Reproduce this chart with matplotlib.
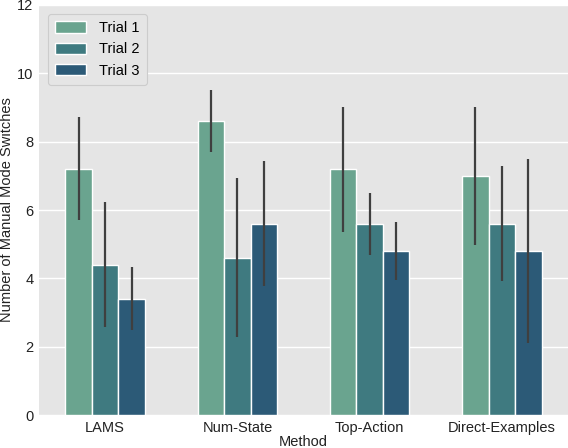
import numpy as np
import matplotlib.pyplot as plt

plt.rcParams['font.family'] = ['Liberation Sans', 'DejaVu Sans']

methods = ["LAMS", "Num-State", "Top-Action", "Direct-Examples"]
trials = ["Trial 1", "Trial 2", "Trial 3"]

# mean values per trial, one entry per method
trial1 = [7.2, 8.6, 7.2, 7.0]
trial2 = [4.4, 4.6, 5.6, 5.6]
trial3 = [3.4, 5.6, 4.8, 4.8]

# error bar lower/upper ends
trial1_lo = [5.7, 7.7, 5.37, 4.97]
trial1_hi = [8.71, 9.5, 9.0, 9.0]
trial2_lo = [2.57, 2.28, 4.67, 3.92]
trial2_hi = [6.22, 6.93, 6.51, 7.29]
trial3_lo = [2.49, 3.77, 3.94, 2.11]
trial3_hi = [4.32, 7.42, 5.65, 7.5]

colors = ["#6aa48f", "#3f7a80", "#2c5a77"]

means = [trial1, trial2, trial3]
lows = [trial1_lo, trial2_lo, trial3_lo]
highs = [trial1_hi, trial2_hi, trial3_hi]

fig = plt.figure(figsize=(5.68, 4.48), dpi=100)
ax = fig.add_axes([39/568, 33/448, 529/568, 410/448])
ax.set_facecolor("#e5e5e5")
ax.set_axisbelow(True)
ax.yaxis.grid(True, color="white", linewidth=1.0)
for s in ax.spines.values():
    s.set_visible(False)

x = np.arange(len(methods))
w = 0.6 / 3
for i in range(3):
    pos = x + (i - 1) * w
    ax.bar(pos, means[i], width=w, color=colors[i], edgecolor="white",
           linewidth=1.0, label=trials[i])
    for p, lo, hi in zip(pos, lows[i], highs[i]):
        ax.plot([p, p], [lo, hi], color="#3f3f3f", linewidth=1.6,
                solid_capstyle="butt")

ax.set_xlim(-0.5, len(methods) - 0.5)
ax.set_ylim(0, 12)
ax.set_yticks([0, 2, 4, 6, 8, 10, 12])
ax.set_xticks(x)
ax.set_xticklabels(methods)
ax.tick_params(axis="both", length=0, labelsize=10.5, colors="#222222", pad=4)
ax.set_xlabel("Method", fontsize=10.5, color="#222222", labelpad=0)
ax.set_ylabel("Number of Manual Mode Switches", fontsize=10.5,
              color="#222222", labelpad=2)

leg = ax.legend(loc="upper left", fontsize=10.5, facecolor="#e5e5e5",
                edgecolor="#cccccc", framealpha=1.0, handlelength=2.1,
                handleheight=0.8, borderpad=0.5, labelspacing=0.5,
                handletextpad=0.9, borderaxespad=0.6)
leg.get_frame().set_linewidth(0.8)

fig.savefig("out.png", dpi=100)
